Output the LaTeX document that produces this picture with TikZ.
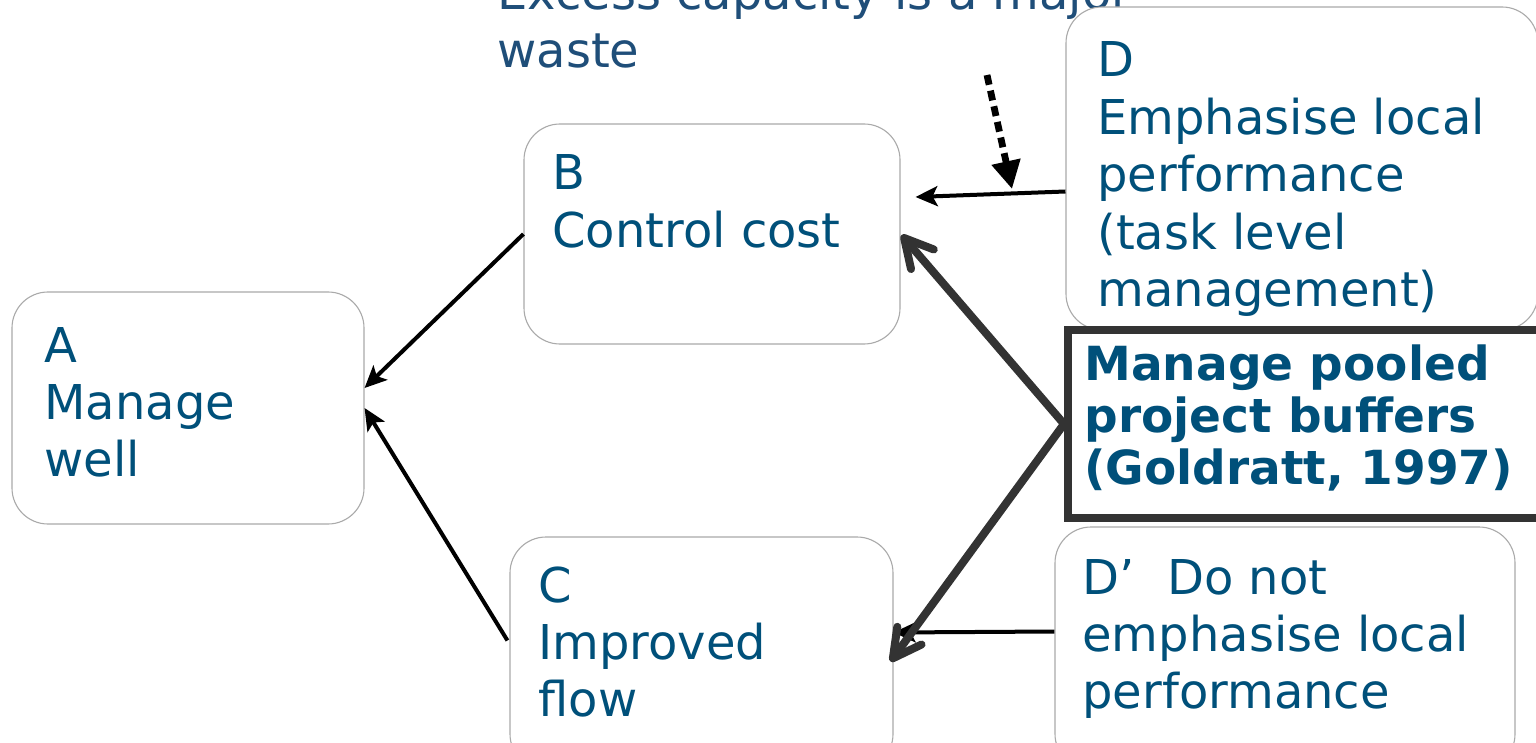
\documentclass[tikz,border=0pt]{standalone}
\usepackage{fontspec}
\setmainfont{DejaVu Sans}
\usetikzlibrary{arrows.meta,fit,calc}
\definecolor{boxtext}{RGB}{0,80,122}
\definecolor{toptext}{RGB}{31,78,121}
\definecolor{boxline}{RGB}{170,170,170}
\definecolor{thickgray}{RGB}{51,51,51}
\begin{document}
\begin{tikzpicture}[x=0.5pt,y=-0.5pt,
  box/.style={draw=boxline,line width=0.55pt,rounded corners=18pt,fill=white,inner sep=0pt},
  boldbox/.style={draw=thickgray,line width=4pt,fill=white,inner sep=0pt},
  txt/.style={inner sep=0pt,anchor=base west,text=boxtext,font=\fontsize{24}{28.7}\selectfont},
  boldtxt/.style={inner sep=0pt,anchor=base west,text=boxtext,font=\fontsize{23.5}{26}\selectfont\bfseries},
  toptxt/.style={inner sep=0pt,anchor=base west,text=toptext,font=\fontsize{24}{29}\selectfont},
  thinarrow/.style={draw=black,line width=2pt,-{Stealth[length=11pt,width=10pt,inset=2.5pt]}},
  dotarrow/.style={draw=black,line width=3.4pt,dash pattern=on 5pt off 3pt,-{Triangle[length=14pt,width=14pt]}},
  thickarrow/.style={draw=thickgray,line width=4pt,line cap=round,-{Straight Barb[length=14pt,width=15pt,round]}}]
\clip (0,0) rectangle (1536,743);
\fill[white] (0,0) rectangle (1536,743);
% top text (partly hidden behind D)
\node[toptxt] (top) at (497,10) {\parbox[t]{16cm}{Excess capacity is a major\\waste}};
% boxes
\node[box,fit={(12,292) (364,524)}] (A) {};
\node[box,fit={(524,124) (900,344)}] (B) {};
\node[box,fit={(510,537) (893,770)}] (C) {};
\node[box,fit={(1066,7) (1538,330)}] (D) {};
\node[boldbox,fit={(1068,330) (1560,518)}] (P) {};
\node[box,fit={(1055,527) (1515,770)}] (Dp) {};
% texts
\node[txt] (At) at (44,362) {\parbox[t]{10cm}{A\\Manage\\well}};
\node[txt] (Bt) at (552,190) {\parbox[t]{10cm}{B\\Control cost}};
\node[txt] (Ct) at (538,602) {\parbox[t]{10cm}{C\\Improved\\flow}};
\node[txt] (Dt) at (1097,77) {\parbox[t]{10cm}{D\\Emphasise local\\performance\\(task level\\management)}};
\node[boldtxt] (Pt) at (1084,380) {\parbox[t]{12cm}{Manage pooled\\project buffers\\(Goldratt, 1997)}};
\node[txt] (Dpt) at (1082,594) {\parbox[t]{10cm}{D’\hspace{0.68em}Do not\\emphasise local\\performance}};
% connectors
\draw[thinarrow] (B.west) -- ($(A.east)+(0,-20)$);
\draw[thinarrow] ($(C.west)+(-2,-13)$) -- (A.east);
\draw[thinarrow] ($(D.west)+(0,23)$) -- ($(B.east)+(15,-37)$);
\draw[thinarrow] ($(Dp.west)+(0,-17)$) -- ($(C.east)+(0,-21)$);
\coordinate (dotS) at (987,75);
\coordinate (dotE) at (1012,189);
\draw[dotarrow] (dotS) -- (dotE);
\draw[thickarrow] (P.west) -- ($(B.east)+(1,1)$);
\draw[thickarrow] (P.west) -- ($(C.east)+(-3,8)$);
\end{tikzpicture}
\end{document}
